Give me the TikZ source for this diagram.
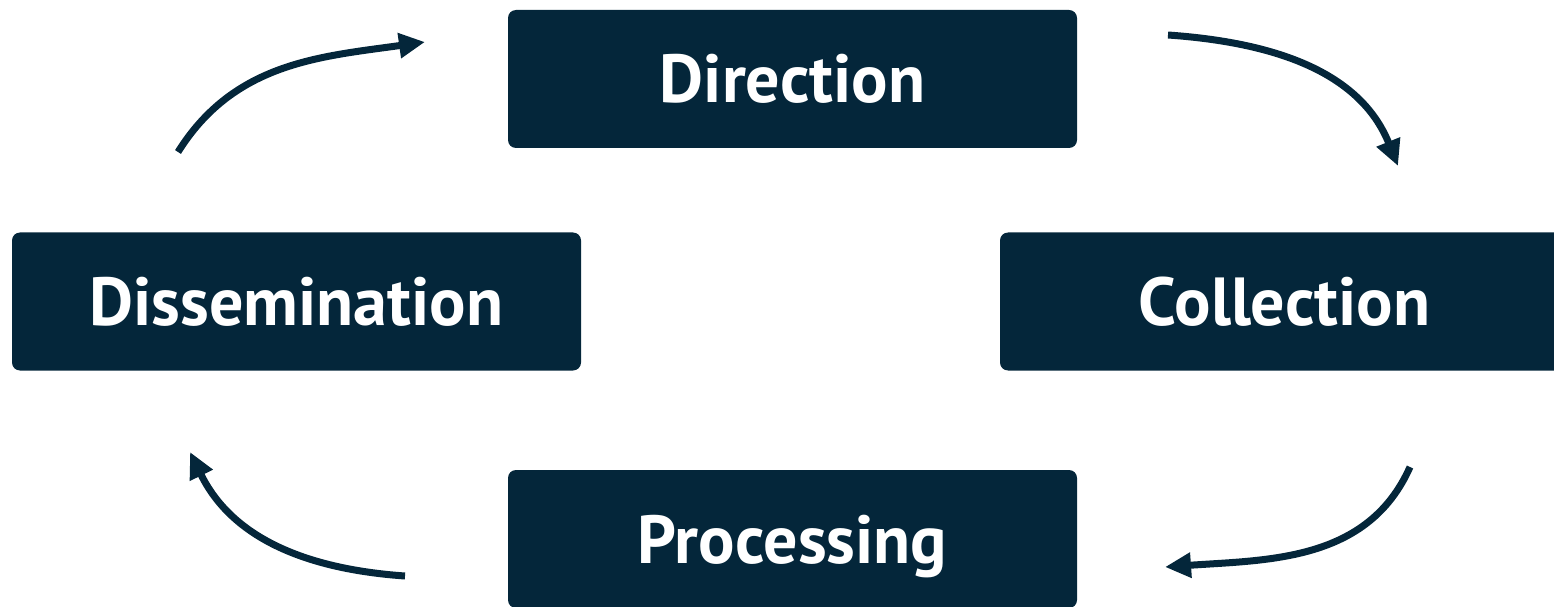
\documentclass[tikz,border=0pt]{standalone}
\usepackage{fontspec}
\setmainfont{PT Sans}
\usepackage{tikz}
\usetikzlibrary{positioning,arrows.meta}
\definecolor{navy}{HTML}{04263A}

\begin{document}
\begin{tikzpicture}[x=1pt,y=1pt,
    stage/.style={fill=navy, rounded corners=8pt, minimum width=569pt, minimum height=138pt,
        inner sep=0pt, text=white, text height=48pt, text depth=0pt,
        font=\fontsize{68}{80}\selectfont\bfseries},
    loopedge/.style={draw, color=navy, line width=7pt, -{Triangle[length=26pt,width=24pt,fill=navy]}}]
    \useasboundingbox (0,0) rectangle (1554,606);
    % stages
    \node[stage] (dir) at (792.5,527) {Direction};
    \node[stage] (dis) at (296.5,304.5) {Dissemination};
    \node[stage] (col) at (1284.5,304.5) {Collection};
    \node[stage] (pro) at (792.5,67) {Processing};
    % arrow ends
    \coordinate (dis-out) at (178,454);
    \coordinate (dir-in) at (425,564);
    \coordinate (dir-out) at (1168,571);
    \coordinate (col-in) at (1398,440);
    \coordinate (col-out) at (1410,139);
    \coordinate (pro-in) at (1165,39);
    \coordinate (pro-out) at (405,30);
    \coordinate (dis-in) at (190,154);
    % arrows
    \draw[loopedge] (dis-out) to[out=58,in=188] (dir-in);
    \draw[loopedge] (dir-out) to[out=-4,in=112] (col-in);
    \draw[loopedge] (col-out) to[out=246,in=4] (pro-in);
    \draw[loopedge] (pro-out) to[out=176,in=296] (dis-in);
\end{tikzpicture}
\end{document}
